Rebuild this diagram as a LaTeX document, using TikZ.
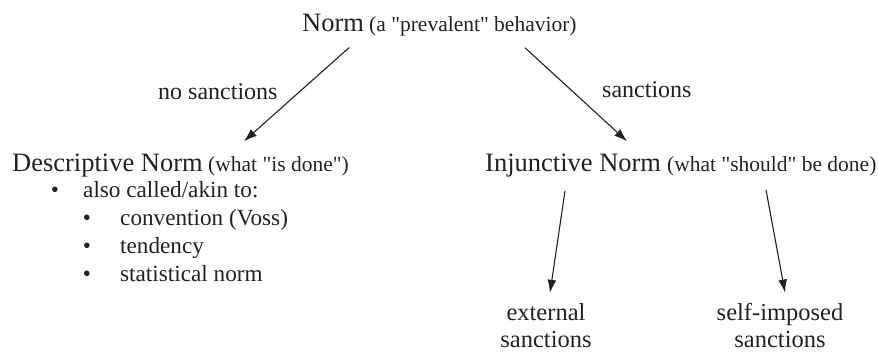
\documentclass[tikz,border=0pt]{standalone}
\usepackage{fontspec}
\newfontfamily\serif{Liberation Serif}
\usetikzlibrary{arrows.meta}
\newcommand\fontL{\serif\fontsize{26.5}{30}\selectfont}
\newcommand\fontS{\serif\fontsize{21.5}{25}\selectfont}
\newcommand\fontM{\serif\fontsize{24}{27}\selectfont}
\newcommand\fontT{\serif\fontsize{23.2}{27}\selectfont}
\newcommand\fontB{\serif\fontsize{24.5}{27}\selectfont}
\definecolor{ink}{HTML}{222222}
\tikzset{
  txt/.style={anchor=base west, inner sep=0pt, text=ink},
  big/.style={txt, font=\fontL},
  small/.style={txt, font=\fontS},
  mid/.style={txt, font=\fontM},
  item/.style={txt, font=\fontT},
  bul/.style={anchor=base, inner sep=0pt, text=ink, font=\fontT},
  leaf/.style={anchor=base, inner sep=0pt, text=ink, font=\fontB, align=center},
  arr/.style={draw=ink, line width=1.1pt, -{Latex[length=13pt,width=9pt]}}
}
\begin{document}
\begin{tikzpicture}[x=1pt,y=-1pt]
\useasboundingbox (0,0) rectangle (878,351);
% top
\node[big]   (normw) at (302,31) {Norm};
\node[small] (normp) at (369,31) {(a "prevalent" behavior)};
% labels
\node[mid] (nosan) at (158,99) {no sanctions};
\node[mid] (san)   at (602,97) {sanctions};
% descriptive
\node[big]   (descL) at (12,171)  {Descriptive Norm};
\node[small] (descP) at (208,171) {(what "is done")};
\node[bul]  (b0) at (55,197)  {•};
\node[item] (l0) at (83,197)  {also called/akin to:};
\node[bul]  (b1) at (87,225)  {•};
\node[item] (l1) at (120,225) {convention (Voss)};
\node[bul]  (b2) at (87,253)  {•};
\node[item] (l2) at (120,253) {tendency};
\node[bul]  (b3) at (87,281)  {•};
\node[item] (l3) at (120,281) {statistical norm};
% injunctive
\node[big]   (injL) at (485,171) {Injunctive Norm};
\node[small] (injP) at (667,171) {(what "should" be done)};
% bottom
\node[leaf] (ext)  at (546,347) {external\\sanctions};
\node[leaf] (self) at (780,347) {self-imposed\\sanctions};
% arrows
\draw[arr] ([xshift=-15pt,yshift=-16pt]normw.south east) -- ([xshift=232pt,yshift=12pt]descL.north west);
\draw[arr] ([xshift=156pt,yshift=-12pt]normp.south west) -- ([xshift=142pt,yshift=12pt]injL.north west);
\draw[arr] ([xshift=80pt,yshift=-14pt]injL.south west) -- ([xshift=4pt,yshift=10pt]ext.north);
\draw[arr] ([xshift=99pt,yshift=-14pt]injP.south west) -- ([xshift=5pt,yshift=10pt]self.north);
\end{tikzpicture}
\end{document}
